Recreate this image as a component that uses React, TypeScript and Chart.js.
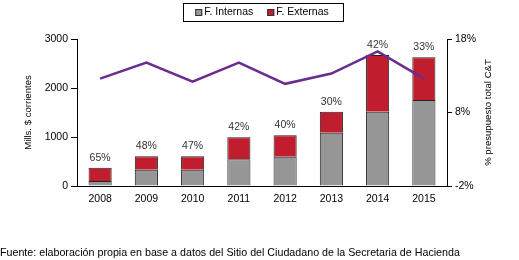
import React, { useEffect, useRef } from "react";
import { Chart, registerables } from "chart.js";

Chart.register(...registerables);

const years = ["2008", "2009", "2010", "2011", "2012", "2013", "2014", "2015"];
const internas = [100, 333, 333, 545, 598, 1088, 1517, 1755];
const externas = [275, 273, 273, 450, 436, 429, 1156, 871];
const pctLabels = ["65%", "48%", "47%", "42%", "40%", "30%", "42%", "33%"];
const pctPresupuesto = [12.6, 14.8, 12.2, 14.8, 11.9, 13.3, 16.3, 12.6];
const leftTicks = [0, 1000, 2000, 3000];
const rightTicks = [-2, 8, 18];
const leftTitle = "Mills. $ corrientes";
const rightTitle = "% presupuesto total C&T";

const FONT = "'Liberation Sans', Arial, sans-serif";
const FS = 10.5;
const GRAY = "#969696";
const RED = "#c01e2e";
const PURPLE = "#6a2c90";

const labelPlugin = {
  id: "barLabels",
  afterDatasetsDraw(chart: any) {
    const ctx = chart.ctx;
    const meta = chart.getDatasetMeta(1);
    ctx.save();
    ctx.font = `${FS}px ${FONT}`;
    ctx.fillStyle = "#333";
    ctx.textAlign = "center";
    ctx.textBaseline = "middle";
    meta.data.forEach((el: any, i: number) => {
      ctx.fillText(pctLabels[i], el.x, el.y - 10);
    });
    ctx.restore();
  },
};

const titlesPlugin = {
  id: "axisTitles",
  afterDraw(chart: any) {
    const ctx = chart.ctx;
    const ca = chart.chartArea;
    const cy = (ca.top + ca.bottom) / 2;
    ctx.save();
    ctx.font = `9.6px ${FONT}`;
    ctx.fillStyle = "#000";
    ctx.textAlign = "center";
    ctx.textBaseline = "middle";
    [
      [28, leftTitle],
      [488, rightTitle],
    ].forEach(([x, t]) => {
      ctx.save();
      ctx.translate(x as number, cy);
      ctx.rotate(-Math.PI / 2);
      ctx.fillText(t as string, 0, 0);
      ctx.restore();
    });
    ctx.restore();
  },
};

const legendPlugin = {
  id: "boxLegend",
  afterDraw(chart: any) {
    const ctx = chart.ctx;
    const items = chart.data.datasets.filter((d: any) => d.type !== "line");
    ctx.save();
    ctx.font = `${FS}px ${FONT}`;
    const box = 7;
    const gap = 2;
    const between = 14;
    const widths = items.map((d: any) => box + gap + ctx.measureText(d.label).width);
    const total = widths.reduce((a: number, b: number) => a + b, 0) + between * (items.length - 1);
    const ca = chart.chartArea;
    const cx = (ca.left + ca.right) / 2;
    const startX = cx - total / 2;
    const top = 3;
    const h = 18;
    ctx.strokeStyle = "#000";
    ctx.lineWidth = 1;
    ctx.strokeRect(Math.round(startX - 12) + 0.5, top + 0.5, Math.round(total + 26), h);
    let x = startX;
    const my = top + h / 2 + 0.5;
    items.forEach((d: any, i: number) => {
      ctx.fillStyle = d.backgroundColor;
      ctx.fillRect(x, my - 3.5, box, box);
      ctx.strokeStyle = "#333";
      ctx.strokeRect(x + 0.5, my - 3, box - 1, box - 1);
      ctx.fillStyle = "#000";
      ctx.textBaseline = "middle";
      ctx.textAlign = "left";
      ctx.fillText(d.label, x + box + gap, my);
      x += widths[i] + between;
    });
    ctx.restore();
  },
};

function ChartView() {
  const ref = useRef<HTMLCanvasElement>(null);
  useEffect(() => {
    const tickFont = { family: FONT, size: FS };
    const chart = new Chart(ref.current as HTMLCanvasElement, {
      type: "bar",
      data: {
        labels: years,
        datasets: [
          {
            type: "bar",
            label: "F. Internas",
            data: internas,
            backgroundColor: GRAY,
            borderColor: "#222",
            borderWidth: 1,
            yAxisID: "y",
            stack: "s",
            order: 2,
            barPercentage: 0.5,
            categoryPercentage: 1,
          },
          {
            type: "bar",
            label: "F. Externas",
            data: externas,
            backgroundColor: RED,
            borderColor: "#222",
            borderWidth: 1,
            yAxisID: "y",
            stack: "s",
            order: 2,
            barPercentage: 0.5,
            categoryPercentage: 1,
          },
          {
            type: "line",
            label: rightTitle,
            data: pctPresupuesto,
            borderColor: PURPLE,
            borderWidth: 2.5,
            pointRadius: 0,
            tension: 0,
            yAxisID: "y1",
            order: 1,
          } as any,
        ],
      },
      options: {
        animation: false,
        responsive: false,
        layout: { padding: { top: 39, left: 0, right: 0, bottom: 0 } },
        plugins: { legend: { display: false }, tooltip: { enabled: false } },
        scales: {
          x: {
            stacked: true,
            grid: { display: false, drawTicks: false },
            border: { color: "#000", width: 1 },
            ticks: { font: tickFont, color: "#000", padding: 7 },
            afterFit(s: any) {
              s.height = 74;
            },
          },
          y: {
            stacked: true,
            position: "left",
            min: 0,
            max: 3000,
            afterBuildTicks(s: any) {
              s.ticks = leftTicks.map((v) => ({ value: v }));
            },
            grid: { drawOnChartArea: false, tickLength: 6, color: "#000" },
            border: { color: "#000", width: 1 },
            ticks: { font: tickFont, color: "#000", padding: 3, callback: (v: any) => String(v) },
            afterFit(s: any) {
              s.width = 77;
            },
          },
          y1: {
            position: "right",
            min: -2,
            max: 18,
            afterBuildTicks(s: any) {
              s.ticks = rightTicks.map((v) => ({ value: v }));
            },
            grid: { drawOnChartArea: false, tickLength: 5, color: "#000" },
            border: { color: "#000", width: 1 },
            ticks: {
              font: tickFont,
              color: "#000",
              padding: 3,
              callback: (v: any) => `${v}%`,
            },
            afterFit(s: any) {
              s.width = 72;
            },
          },
        },
      },
      plugins: [labelPlugin, legendPlugin, titlesPlugin],
    });
    return () => chart.destroy();
  }, []);
  return <canvas ref={ref} width={519} height={260} style={{ display: "block" }} />;
}

export default function App() {
  return (
    <div style={{ position: "fixed", left: 0, top: 0, width: 519, height: 260, background: "#fff" }}>
      <ChartView />
      <div
        style={{
          position: "absolute",
          left: 0,
          top: 245,
          fontFamily: FONT,
          fontSize: 10.7,
          color: "#000",
          whiteSpace: "nowrap",
          lineHeight: "14px",
        }}
      >
        Fuente: elaboración propia en base a datos del Sitio del Ciudadano de la Secretaria de Hacienda
      </div>
    </div>
  );
}
